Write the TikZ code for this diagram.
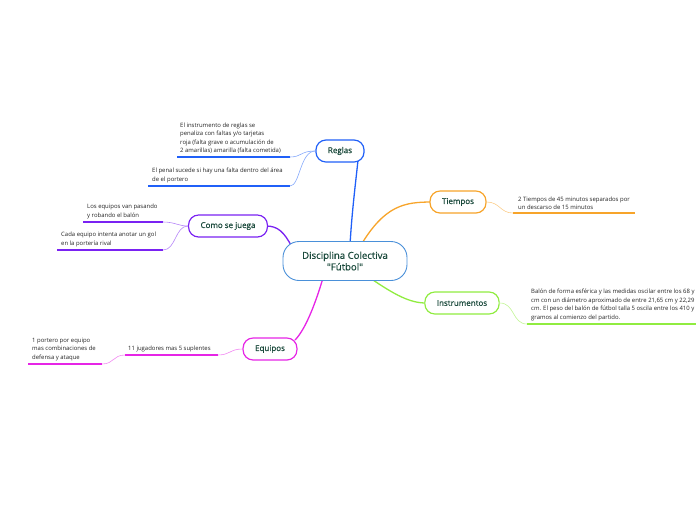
\documentclass[tikz,border=0pt]{standalone}
\usepackage{fontspec}
\setmainfont{Open Sans}
\newfontfamily\semib[FakeBold=0.6]{Open Sans}
\definecolor{cblue}{HTML}{2060F8}
\definecolor{ccen}{HTML}{4A90D9}
\definecolor{cpur}{HTML}{7A22F2}
\definecolor{cmag}{HTML}{E625E6}
\definecolor{cora}{HTML}{F7A42A}
\definecolor{cgrn}{HTML}{90EC40}
\definecolor{ctxt}{HTML}{1B4A3C}
\definecolor{csm}{HTML}{222222}
\tikzset{
  topic/.style={draw=#1, line width=1.2pt, rounded corners=10pt, fill=white, text=ctxt,
     font=\semib\fontsize{8}{9}\selectfont, inner xsep=12pt, minimum height=22pt},
  central/.style={draw=ccen, line width=0.9pt, rounded corners=16pt, fill=white, text=ctxt,
     font=\semib\fontsize{9.6}{11.5}\selectfont, align=center, minimum width=124pt, minimum height=39pt},
  small/.style={font=\fontsize{5.95}{8.6}\selectfont, text=csm, align=left, inner sep=0pt, anchor=south west},
  branch/.style={draw=#1, line width=1.3pt},
  twig/.style={draw=#1!55, line width=0.6pt},
  uline/.style={draw=#1, line width=1.2pt},
}
\begin{document}
\begin{tikzpicture}[x=1pt,y=-1pt]
\useasboundingbox (0,0) rectangle (696,520);
% main branches (drawn first, nodes on top)
\coordinate (rb) at (358,160);
\coordinate (eb) at (295,340);
\draw[branch=cblue] (350,245) .. controls (352,210) and (356,180) .. (rb);
\draw[branch=cpur] (292,247) .. controls (284,232) and (278,226) .. (266,226);
\draw[branch=cmag] (323,278) .. controls (315,305) and (305,330) .. (eb);
\draw[branch=cora] (361,245) .. controls (385,205) and (405,202) .. (432,202);
\draw[branch=cgrn] (370,278) .. controls (395,295) and (410,303) .. (426,303);
% central and topics
\node[central] (cen) at (345,261) {Disciplina Colectiva\\"Fútbol"};
\node[topic=cblue] (reg) at (340,151) {Reglas};
\node[topic=cpur] (como) at (228,226) {Como se juega};
\node[topic=cmag] (equ) at (270,349) {Equipos};
\node[topic=cora] (tie) at (458,202) {Tiempos};
\node[topic=cgrn] (ins) at (462,303) {Instrumentos};
% Reglas subtopics
\coordinate (r1a) at (177,157); \coordinate (r1b) at (290,157);
\coordinate (r2a) at (148,186); \coordinate (r2b) at (290,186);
\draw[uline=cblue] (r1a) -- (r1b);
\draw[uline=cblue] (r2a) -- (r2b);
\draw[twig=cblue] (reg.west) .. controls (300,151) and (302,157) .. (r1b);
\draw[twig=cblue] (reg.west) .. controls (300,151) and (300,186) .. (r2b);
\node[small] (r1t) at (180,154) {El instrumento de reglas se\\penaliza con faltas y/o tarjetas\\roja (falta grave o acumulación de\\2 amarillas) amarilla (falta cometida)};
\node[small] (r2t) at (152,183) {El penal sucede si hay una falta dentro del área\\de el portero};
% Como subtopics
\coordinate (c1a) at (83,222); \coordinate (c1b) at (163,222);
\coordinate (c2a) at (57,250); \coordinate (c2b) at (163,250);
\draw[uline=cpur] (c1a) -- (c1b);
\draw[uline=cpur] (c2a) -- (c2b);
\draw[twig=cpur] (como.west) .. controls (178,226) and (175,222) .. (c1b);
\draw[twig=cpur] (como.west) .. controls (175,226) and (176,250) .. (c2b);
\node[small] (c1t) at (87,219) {Los equipos van pasando\\y robando el balón};
\node[small] (c2t) at (61,247) {Cada equipo intenta anotar un gol\\en la portería rival};
% Equipos subtopics
\coordinate (e1a) at (125,355); \coordinate (e1b) at (218,355);
\coordinate (e2a) at (28,364); \coordinate (e2b) at (102,364);
\draw[uline=cmag] (e1a) -- (e1b);
\draw[uline=cmag] (e2a) -- (e2b);
\draw[twig=cmag] (equ.west) .. controls (230,349) and (230,355) .. (e1b);
\draw[twig=cmag] (e1a) .. controls (113,355) and (114,364) .. (e2b);
\node[small] (e1t) at (128,352) {11 jugadores mas 5 suplentes};
\node[small] (e2t) at (32,361) {1 portero por equipo\\mas combinaciones de\\defensa y ataque};
% Tiempos subtopic
\coordinate (t1a) at (513,213); \coordinate (t1b) at (635,213);
\draw[uline=cora] (t1a) -- (t1b);
\draw[twig=cora] (tie.east) .. controls (500,202) and (500,213) .. (t1a);
\node[small] (t1t) at (518,210) {2 Tiempos de 45 minutos separados por\\un descarso de 15 minutos};
% Instrumentos subtopic
\coordinate (i1a) at (527,324); \coordinate (i1b) at (696,324);
\draw[uline=cgrn] (i1a) -- (i1b);
\draw[twig=cgrn] (ins.east) .. controls (515,303) and (512,324) .. (i1a);
\node[small] (i1t) at (531,321) {Balón de forma esférica y las medidas oscilar entre los 68 y\\cm con un diámetro aproximado de entre 21,65 cm y 22,29\\cm. El peso del balón de fútbol talla 5 oscila entre los 410 y\\gramos al comienzo del partido.};
\end{tikzpicture}
\end{document}
